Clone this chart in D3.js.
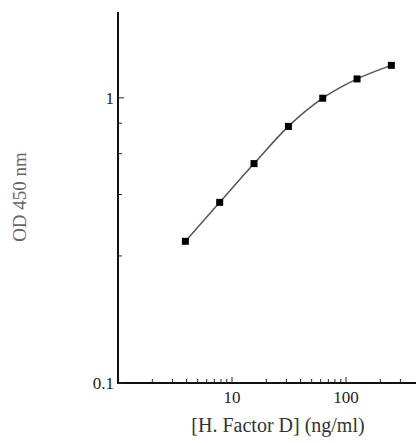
<!DOCTYPE html>
<html>
<head>
<meta charset="utf-8">
<script src="https://cdn.jsdelivr.net/npm/d3@7"></script>
<style>
  body { margin: 0; background: #fff; }
  text { font-family: "Liberation Serif", "DejaVu Serif", serif; }
</style>
</head>
<body>
<svg id="chart" width="416" height="443"></svg>
<script>
// concentrations (ng/ml) and OD readings
const conc = [3.9, 7.8, 15.6, 31.25, 62.5, 125, 250];
const od = [0.314, 0.43, 0.588, 0.794, 0.997, 1.165, 1.30];

const xMajor = [10, 100];
const xMinor = [2, 3, 4, 5, 6, 7, 8, 9, 20, 30, 40, 50, 60, 70, 80, 90, 200, 300];
const yMajor = [0.1, 1];
const yMinor = [0.279, 0.458, 0.637, 0.815];

const svg = d3.select("#chart");

const x = d3.scaleLog().domain([1, 1000]).range([118, 460]);
const y = d3.scaleLog().domain([0.1, 2]).range([383, 12]);

// axes, ticks drawn inward
const xAxis = svg.append("g").attr("transform", "translate(0,383)");
xAxis.append("line").attr("x1", 118).attr("x2", 416).attr("stroke", "#111").attr("stroke-width", 2);
xAxis.selectAll(".minor").data(xMinor).enter().append("line")
  .attr("x1", d => x(d)).attr("x2", d => x(d)).attr("y1", 0).attr("y2", -4)
  .attr("stroke", "#222").attr("stroke-width", 1);
xAxis.selectAll(".major").data(xMajor).enter().append("line")
  .attr("x1", d => x(d)).attr("x2", d => x(d)).attr("y1", 0).attr("y2", -6)
  .attr("stroke", "#222").attr("stroke-width", 1);
xAxis.selectAll(".lab").data(xMajor).enter().append("text")
  .attr("x", d => x(d)).attr("y", 20).attr("text-anchor", "middle")
  .attr("font-size", 17).attr("fill", "#222").text(d => d);

const yAxis = svg.append("g").attr("transform", "translate(118,0)");
yAxis.append("line").attr("y1", 12).attr("y2", 384).attr("stroke", "#111").attr("stroke-width", 2);
yAxis.selectAll(".minor").data(yMinor).enter().append("line")
  .attr("y1", d => y(d)).attr("y2", d => y(d)).attr("x1", 0).attr("x2", 4)
  .attr("stroke", "#222").attr("stroke-width", 1);
yAxis.selectAll(".major").data(yMajor).enter().append("line")
  .attr("y1", d => y(d)).attr("y2", d => y(d)).attr("x1", 0).attr("x2", 6)
  .attr("stroke", "#222").attr("stroke-width", 1);
yAxis.selectAll(".lab").data(yMajor).enter().append("text")
  .attr("x", -4).attr("y", d => y(d) + 6).attr("text-anchor", "end")
  .attr("font-size", 17).attr("fill", "#222").text(d => d);

// titles
svg.append("text").attr("x", 278).attr("y", 432).attr("text-anchor", "middle")
  .attr("font-size", 20).attr("fill", "#333").text("[H. Factor D] (ng/ml)");
svg.append("text").attr("transform", "translate(26,197) rotate(-90)")
  .attr("text-anchor", "middle").attr("font-size", 19).attr("fill", "#666").text("OD 450 nm");

// curve and markers
const pts = conc.map((c, i) => [c, od[i]]);
const line = d3.line().x(d => x(d[0])).y(d => y(d[1])).curve(d3.curveMonotoneX);
svg.append("path").attr("d", line(pts)).attr("fill", "none")
  .attr("stroke", "#555").attr("stroke-width", 1.5);

svg.selectAll(".pt").data(pts).enter().append("rect")
  .attr("x", d => x(d[0]) - 3.5).attr("y", d => y(d[1]) - 3.5)
  .attr("width", 7).attr("height", 7).attr("fill", "#000");
</script>
</body>
</html>
